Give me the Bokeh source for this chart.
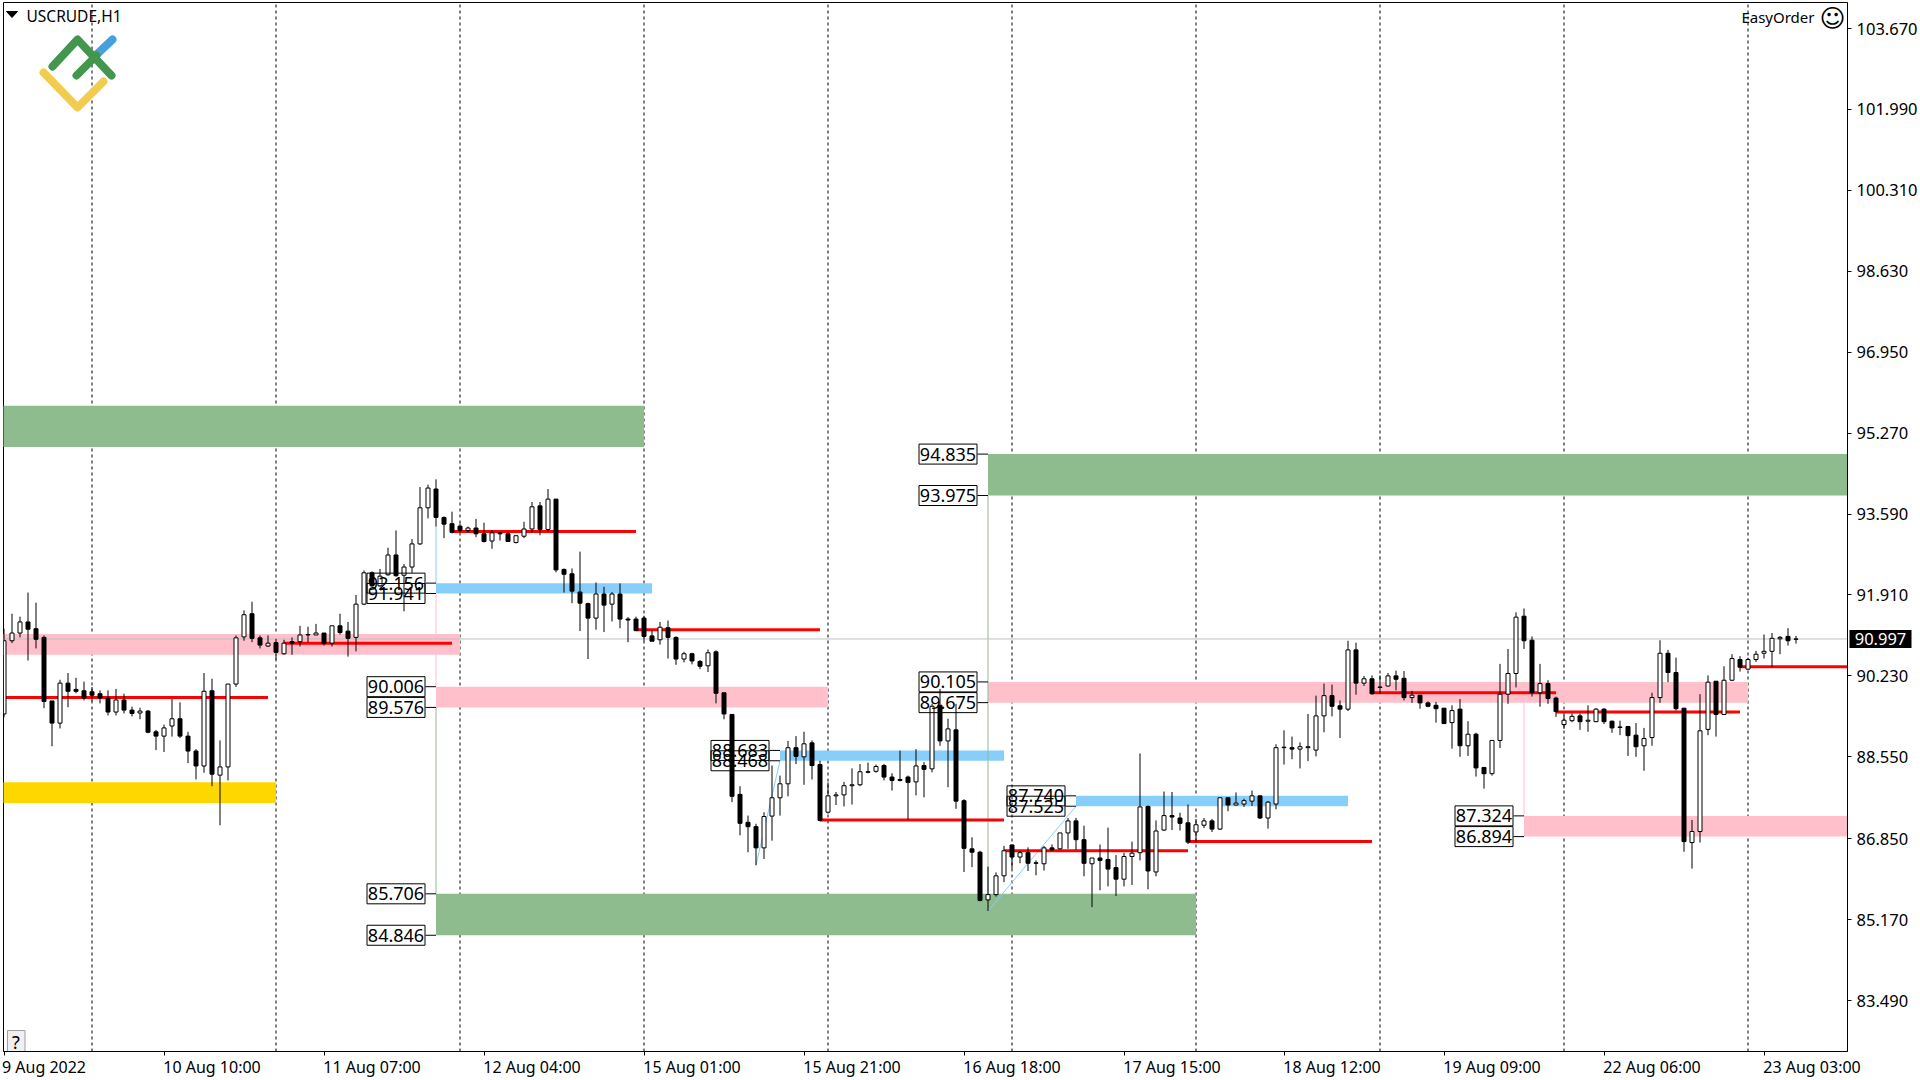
from bokeh.plotting import figure
from bokeh.embed import file_html
from bokeh.resources import INLINE
from bokeh.models import Range1d, FixedTicker
from bokeh.core.properties import value

FONT = "Noto Sans"

symbol_text = "USCRUDE,H1"
ea_text = "EasyOrder"
last_price = 90.997

x_tick_bars = [0, 20, 40, 60, 80, 100, 120, 140, 160, 180, 200, 220]
x_tick_labels = ["9 Aug 2022", "10 Aug 10:00", "11 Aug 07:00", "12 Aug 04:00", "15 Aug 01:00", "15 Aug 21:00",
                 "16 Aug 18:00", "17 Aug 15:00", "18 Aug 12:00", "19 Aug 09:00", "22 Aug 06:00", "23 Aug 03:00"]
y_ticks = [103.67, 101.99, 100.31, 98.63, 96.95, 95.27, 93.59, 91.91, 90.23, 88.55, 86.85, 85.17, 83.49]
period_separators = [11, 34, 57, 80, 103, 126, 149, 172, 195, 218]

opens = [
    89.44, 90.96, 91.12, 91.35, 91.21, 91.03, 89.71, 89.25, 90.08, 89.95,
    89.92, 89.90, 89.86, 89.77, 89.48, 89.73, 89.52, 89.46, 89.50, 89.07,
    88.98, 89.19, 89.34, 88.98, 88.67, 88.36, 89.92, 88.17, 88.34, 90.06,
    91.04, 91.52, 91.02, 90.85, 90.92, 90.69, 90.94, 90.94, 91.08, 91.08,
    91.12, 90.91, 91.27, 91.16, 91.03, 91.72, 92.37, 92.10, 92.33, 92.74,
    92.32, 92.49, 92.97, 93.72, 94.11, 93.52, 93.39, 93.34, 93.25, 93.30,
    93.18, 93.03, 93.20, 93.18, 93.00, 93.13, 93.28, 93.76, 93.27, 93.90,
    92.44, 92.35, 91.97, 91.73, 91.43, 91.93, 91.72, 91.93, 91.41, 91.41,
    91.43, 91.06, 90.98, 91.23, 91.03, 90.58, 90.69, 90.53, 90.44, 90.73,
    89.88, 89.43, 87.77, 87.19, 87.10, 86.66, 87.32, 87.70, 87.99, 88.74,
    88.55, 88.84, 88.39, 87.40, 87.74, 87.76, 87.95, 87.97, 88.24, 88.25,
    88.37, 88.13, 88.08, 88.13, 88.03, 88.37, 88.30, 89.62, 88.88, 89.11,
    87.64, 86.64, 86.57, 85.58, 85.69, 86.08, 86.72, 86.47, 86.56, 86.35,
    86.33, 86.66, 86.64, 86.97, 87.22, 86.83, 86.33, 86.45, 86.42, 86.25,
    86.01, 86.48, 86.56, 87.52, 86.16, 87.03, 87.33, 87.28, 87.18, 86.99,
    87.13, 87.22, 87.05, 87.70, 87.55, 87.57, 87.63, 87.74, 87.28, 87.57,
    88.74, 88.74, 88.71, 88.74, 88.69, 89.40, 89.82, 89.61, 89.54, 90.77,
    90.08, 90.17, 90.00, 90.02, 90.23, 90.18, 89.78, 89.83, 89.67, 89.62,
    89.56, 89.26, 89.54, 88.78, 89.02, 88.33, 88.20, 88.89, 89.85, 90.28,
    91.47, 90.97, 89.88, 90.07, 89.77, 89.22, 89.30, 89.40, 89.29, 89.28,
    89.54, 89.29, 89.17, 89.18, 89.00, 88.78, 88.95, 89.78, 90.70, 90.30,
    89.56, 86.77, 87.00, 89.12, 90.12, 89.43, 90.14, 90.57, 90.37, 90.57,
    90.70, 90.74, 91.00, 91.05, 90.99,
]
highs = [
    91.21, 91.52, 91.46, 91.96, 91.75, 91.07, 89.71, 90.15, 90.29, 90.19,
    90.11, 90.00, 89.93, 89.93, 89.96, 89.86, 89.59, 89.57, 89.52, 89.11,
    89.22, 89.75, 89.68, 89.07, 88.71, 90.29, 90.17, 88.89, 90.06, 91.07,
    91.59, 91.77, 91.07, 91.07, 91.00, 90.98, 91.03, 91.27, 91.25, 91.31,
    91.12, 91.27, 91.52, 91.35, 91.91, 92.42, 92.40, 92.45, 92.89, 93.25,
    92.55, 93.07, 94.15, 94.20, 94.31, 93.54, 93.64, 93.39, 93.33, 93.49,
    93.41, 93.26, 93.20, 93.21, 93.14, 93.43, 93.84, 93.84, 94.11, 93.90,
    92.46, 92.46, 92.81, 91.75, 92.17, 92.08, 91.97, 92.15, 91.45, 91.46,
    91.48, 91.18, 91.35, 91.38, 91.05, 90.73, 90.71, 90.56, 90.78, 90.76,
    89.88, 89.43, 87.94, 87.33, 87.16, 87.40, 88.37, 88.16, 88.88, 88.98,
    89.07, 88.89, 88.47, 88.02, 87.82, 88.03, 88.31, 88.40, 88.43, 88.39,
    88.40, 88.21, 88.68, 88.16, 88.71, 88.44, 89.65, 89.96, 89.34, 89.65,
    87.67, 86.88, 86.60, 86.27, 86.15, 86.70, 86.72, 86.60, 86.67, 86.40,
    86.70, 86.73, 86.97, 87.28, 87.28, 87.12, 86.45, 86.73, 87.08, 86.51,
    86.56, 86.79, 88.62, 87.54, 87.23, 87.83, 87.82, 87.39, 87.56, 87.26,
    87.28, 87.26, 87.70, 87.71, 87.81, 87.68, 87.85, 87.75, 87.63, 88.81,
    89.10, 88.97, 88.85, 89.44, 89.82, 90.07, 90.05, 89.72, 90.96, 90.92,
    90.23, 90.24, 90.24, 90.29, 90.34, 90.33, 89.92, 89.83, 89.70, 89.69,
    89.56, 89.62, 89.75, 89.29, 89.05, 88.33, 88.89, 90.48, 90.79, 91.55,
    91.63, 91.05, 90.48, 90.14, 89.80, 89.42, 89.45, 89.45, 89.62, 89.56,
    89.56, 89.30, 89.30, 89.18, 89.25, 89.15, 89.88, 90.97, 90.77, 90.61,
    89.56, 87.24, 89.85, 90.24, 90.12, 90.43, 90.68, 90.64, 90.61, 90.75,
    91.09, 91.12, 91.06, 91.22, 91.06,
]
lows = [
    89.37, 90.91, 91.03, 90.55, 90.80, 89.56, 88.77, 89.14, 89.58, 89.87,
    89.72, 89.70, 89.66, 89.41, 89.41, 89.45, 89.39, 89.33, 89.04, 88.69,
    88.65, 88.97, 88.94, 88.42, 88.08, 88.22, 87.94, 87.13, 88.06, 90.00,
    90.96, 90.93, 90.80, 90.83, 90.57, 90.67, 90.67, 90.84, 90.93, 91.08,
    90.86, 90.84, 91.09, 90.63, 90.74, 91.70, 92.08, 92.08, 92.31, 92.29,
    91.57, 92.37, 92.95, 93.50, 93.33, 93.09, 93.19, 93.21, 93.21, 93.11,
    93.00, 92.87, 93.04, 93.02, 92.98, 93.09, 93.21, 93.15, 93.23, 92.38,
    91.96, 91.74, 91.16, 90.58, 91.19, 91.14, 91.36, 91.22, 90.93, 91.16,
    90.96, 90.95, 90.88, 90.59, 90.46, 90.51, 90.47, 90.37, 90.31, 89.66,
    89.33, 87.61, 86.92, 86.57, 86.30, 86.43, 86.81, 87.33, 87.73, 88.40,
    87.97, 88.08, 87.21, 87.37, 87.55, 87.52, 87.56, 87.94, 88.21, 88.22,
    88.06, 87.85, 88.04, 87.25, 87.75, 87.71, 88.23, 88.78, 87.92, 87.47,
    86.16, 86.26, 85.55, 85.35, 85.65, 85.95, 86.23, 86.34, 86.18, 86.09,
    86.19, 86.60, 86.62, 86.64, 86.62, 86.07, 85.43, 85.78, 85.86, 85.66,
    85.86, 85.89, 86.40, 85.80, 86.07, 87.01, 87.03, 87.02, 86.74, 86.78,
    87.07, 86.99, 87.03, 87.42, 87.54, 87.51, 87.53, 87.26, 87.06, 87.46,
    88.39, 88.50, 88.31, 88.46, 88.56, 89.06, 89.39, 88.94, 89.50, 89.84,
    90.02, 89.84, 89.86, 90.01, 89.93, 89.72, 89.67, 89.55, 89.58, 89.26,
    89.24, 88.72, 88.55, 88.57, 88.14, 87.89, 88.16, 88.73, 89.65, 89.99,
    90.79, 89.80, 89.59, 89.65, 89.38, 89.13, 89.27, 89.11, 89.07, 89.27,
    89.23, 89.05, 89.00, 88.57, 88.55, 88.26, 88.78, 89.67, 90.10, 89.51,
    86.58, 86.23, 86.77, 89.00, 88.97, 89.42, 90.12, 90.32, 90.35, 90.52,
    90.59, 90.41, 90.68, 90.86, 90.90,
]
closes = [
    90.96, 91.12, 91.35, 91.20, 90.99, 89.70, 89.25, 90.08, 89.91, 89.91,
    89.77, 89.83, 89.77, 89.48, 89.73, 89.52, 89.45, 89.50, 89.06, 88.98,
    89.15, 89.34, 88.98, 88.67, 88.36, 89.91, 88.19, 88.34, 90.06, 91.02,
    91.50, 91.01, 90.87, 90.91, 90.72, 90.91, 90.91, 91.08, 91.09, 91.12,
    90.90, 91.27, 91.13, 91.01, 91.72, 92.37, 92.10, 92.30, 92.74, 92.31,
    92.49, 92.97, 93.72, 94.13, 93.52, 93.38, 93.21, 93.25, 93.30, 93.18,
    93.02, 93.20, 93.18, 93.02, 93.14, 93.28, 93.74, 93.27, 93.90, 92.43,
    92.34, 91.99, 91.74, 91.43, 91.93, 91.70, 91.93, 91.41, 91.39, 91.17,
    91.05, 90.95, 91.24, 91.03, 90.58, 90.69, 90.54, 90.43, 90.71, 89.87,
    89.44, 87.73, 87.17, 87.10, 86.66, 87.31, 87.70, 87.99, 88.74, 88.56,
    88.82, 88.37, 87.23, 87.74, 87.76, 87.95, 87.97, 88.24, 88.23, 88.35,
    88.13, 88.06, 88.06, 88.02, 88.36, 88.29, 89.60, 88.88, 89.13, 87.63,
    86.65, 86.57, 85.57, 85.69, 86.08, 86.60, 86.47, 86.56, 86.34, 86.34,
    86.66, 86.62, 86.97, 87.22, 86.83, 86.34, 86.45, 86.40, 86.22, 86.01,
    86.48, 86.55, 87.51, 86.18, 87.01, 87.33, 87.30, 87.17, 86.78, 87.14,
    87.22, 87.05, 87.70, 87.55, 87.59, 87.64, 87.74, 87.28, 87.61, 88.74,
    88.75, 88.71, 88.76, 88.76, 89.40, 89.82, 89.60, 89.54, 90.77, 90.08,
    90.17, 89.86, 89.99, 90.23, 90.16, 89.78, 89.83, 89.67, 89.60, 89.55,
    89.24, 89.51, 88.78, 89.02, 88.32, 88.20, 88.89, 89.85, 90.28, 91.45,
    90.96, 89.88, 90.07, 89.76, 89.49, 89.31, 89.39, 89.28, 89.31, 89.54,
    89.28, 89.15, 89.16, 88.99, 88.76, 88.93, 89.78, 90.70, 90.30, 89.55,
    86.79, 87.00, 89.09, 90.10, 89.43, 90.14, 90.59, 90.41, 90.57, 90.68,
    90.74, 91.01, 91.03, 90.96, last_price,
]

zone_left = [-1, -1, -1, 54, 54, 54, 97, 123, 123, 134, 190]
zone_right = [80, 57, 34, 81, 103, 149, 125, 231, 218, 168, 231]
zone_top = [95.84, 91.10, 88.02, 92.156, 90.006, 85.706, 88.683, 94.835, 90.105, 87.74, 87.324]
zone_bottom = [94.98, 90.67, 87.59, 91.941, 89.576, 84.846, 88.468, 93.975, 89.675, 87.525, 86.894]
zone_color = ["#8FBC8F", "#FFC0CB", "#FFD700", "#87CEFA", "#FFC0CB", "#8FBC8F",
              "#87CEFA", "#8FBC8F", "#FFC0CB", "#87CEFA", "#FFC0CB"]

pivot_x0 = [0, 35, 56, 79, 102, 125, 148, 171, 194, 217]
pivot_x1 = [33, 56, 79, 102, 125, 148, 171, 194, 217, 231]
pivot_y = [89.78, 90.91, 93.23, 91.19, 87.24, 86.60, 86.79, 89.88, 89.48, 90.42]

link_x0 = [54, 54, 54, 123, 190, 94, 123]
link_y0 = [93.33, 91.941, 89.576, 93.975, 89.90, 86.30, 85.35]
link_x1 = [54, 54, 54, 123, 190, 97, 134]
link_y1 = [92.156, 90.006, 85.706, 85.35, 87.324, 88.468, 87.525]
link_color = ["#87CEFA", "#FFC0CB", "#8FBC8F", "#8FBC8F", "#FFC0CB", "#87CEFA", "#87CEFA"]

# pixel-to-data helpers for the few furniture items placed on the page itself
def dx(px):
    return (px - 3.5) / 8.0
def dy(py):
    return 103.67 - (py - 28.0) / 48.17

p = figure(frame_width=1844, frame_height=1049, output_backend="svg", toolbar_location=None,
           x_range=Range1d(dx(3), dx(1847)), y_range=Range1d(dy(1051), dy(2)),
           y_axis_location="right", min_border_left=3, min_border_right=73,
           min_border_top=2, min_border_bottom=29, margin=(0, 0, 0, 0),
           background_fill_color="white", border_fill_color="white",
           outline_line_color="black", outline_line_width=1)
p.grid.visible = False

label_bars = [b + (5 if k == 0 else 6) for k, b in enumerate(x_tick_bars)]
p.xaxis.ticker = FixedTicker(ticks=label_bars, minor_ticks=x_tick_bars)
p.xaxis.major_label_overrides = dict(zip(label_bars, x_tick_labels))
p.xaxis.major_tick_out = 0
p.xaxis.major_tick_in = 0
p.xaxis.minor_tick_out = 4
p.xaxis.minor_tick_in = 0
p.xaxis.major_label_standoff = 0
p.yaxis.ticker = FixedTicker(ticks=y_ticks)
p.yaxis.formatter.use_scientific = False
p.yaxis.major_label_overrides = {t: f"{t:.3f}" for t in y_ticks}
p.yaxis.major_tick_out = 4
p.yaxis.major_tick_in = 0
p.yaxis.minor_tick_out = 0
p.yaxis.minor_tick_in = 0
p.yaxis.major_label_standoff = 5
for ax in (p.xaxis[0], p.yaxis[0]):
    ax.axis_line_color = "black"
    ax.major_tick_line_color = "black"
    ax.minor_tick_line_color = "black"
    ax.major_label_text_color = "black"
    ax.major_label_text_font = FONT
p.xaxis.major_label_text_font_size = "16px"
p.yaxis.major_label_text_font_size = "16.5px"

# period separators
p.segment(x0=period_separators, x1=period_separators, y0=[dy(1051)] * len(period_separators),
          y1=[dy(2)] * len(period_separators), line_color="black", line_width=1, line_dash="3 3")

# zones
p.quad(left=zone_left, right=zone_right, top=zone_top, bottom=zone_bottom, fill_color=zone_color, line_color=None)

# links between zones
p.segment(x0=link_x0, y0=link_y0, x1=link_x1, y1=link_y1, line_color=link_color, line_width=1)

# current price
p.segment(x0=[-1], x1=[231], y0=[last_price], y1=[last_price], line_color="#C0C0C0", line_width=1)

# pivots
p.segment(x0=pivot_x0, x1=pivot_x1, y0=pivot_y, y1=pivot_y, line_color="#FF0000", line_width=3)

# candles
idx = list(range(len(opens)))
p.segment(x0=idx, x1=idx, y0=lows, y1=highs, line_color="black", line_width=1)
up = [i for i in idx if closes[i] >= opens[i]]
down = [i for i in idx if closes[i] < opens[i]]
p.vbar(x=up, width=0.5, top=[closes[i] for i in up], bottom=[opens[i] for i in up],
       fill_color="white", line_color="black", line_width=1)
p.vbar(x=down, width=0.5, top=[opens[i] for i in down], bottom=[closes[i] for i in down],
       fill_color="black", line_color="black", line_width=1)

# price labels at the start of every visible zone
box_x = []
box_y = []
box_txt = []
lead_x0 = []
lead_x1 = []
for z in range(len(zone_left)):
    if zone_left[z] >= 0:
        for price in (zone_top[z], zone_bottom[z]):
            box_x.append(zone_left[z] - 40.0 / 8)
            box_y.append(price)
            box_txt.append(f"{price:.3f}")
            lead_x0.append(zone_left[z] - 10.5 / 8)
            lead_x1.append(zone_left[z])
p.segment(x0=lead_x0, x1=lead_x1, y0=box_y, y1=box_y, line_color="black", line_width=1)
p.rect(x=box_x, y=box_y, width=58.0 / 8, height=20.0 / 48.17, fill_color=None, line_color="black", line_width=1)
p.text(x=box_x, y=box_y, text=box_txt, text_font=value(FONT), text_font_size="18px", text_color="black",
       text_align="center", text_baseline="middle")

# logo
logo = [
    ("#45A1DE", [(94, 56), (112, 39)]),
    ("#43964E", [(52, 66), (77, 39), (111, 75)]),
    ("#43964E", [(76, 75), (96, 55)]),
    ("#F2CC4D", [(43, 72), (77, 107), (103, 81)]),
]
for colour, pts in logo:
    p.line(x=[dx(a) for a, b in pts], y=[dy(b) for a, b in pts], line_color=colour, line_width=8,
           line_cap="round", line_join="round")

# corner furniture
p.patch(x=[dx(6), dx(17), dx(11.5)], y=[dy(11), dy(11), dy(17)], fill_color="black", line_color="black")
p.text(x=[dx(26)], y=[dy(15)], text=[symbol_text], text_font=value(FONT), text_font_size="15.5px",
       text_color="black", text_align="left", text_baseline="middle")
p.text(x=[dx(1814)], y=[dy(16)], text=[ea_text], text_font=value(FONT), text_font_size="15px",
       text_color="black", text_align="right", text_baseline="middle")
p.text(x=[dx(1832)], y=[dy(18)], text=["\u263A"], text_font=value("DejaVu Sans"), text_font_size="25px",
       text_color="black", text_align="center", text_baseline="middle")
p.quad(left=[dx(7)], right=[dx(24.5)], top=[dy(1030)], bottom=[dy(1051)], fill_color="#F0F0F0", line_color="#A0A0A0")
p.text(x=[dx(15.5)], y=[dy(1041)], text=["?"], text_font=value(FONT), text_font_size="18px",
       text_color="black", text_align="center", text_baseline="middle")

# current price tag on the axis (overlay level is not clipped to the frame)
p.rect(x=[dx(1880)], y=[last_price], width=62.0 / 8, height=18.0 / 48.17, fill_color="black", line_color=None,
       level="overlay")
p.text(x=[dx(1880)], y=[last_price], text=[f"{last_price:.3f}"], text_font=value(FONT), text_font_size="16.5px",
       text_color="white", text_align="center", text_baseline="middle", level="overlay")

open("out.html", "w").write(file_html(p, INLINE))
